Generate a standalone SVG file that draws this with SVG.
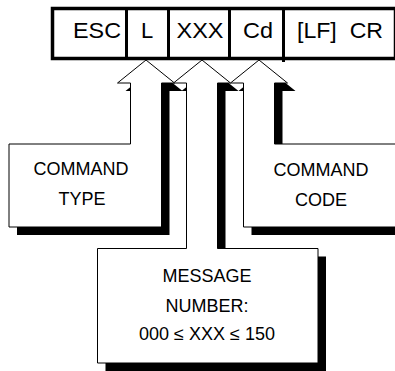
<svg xmlns="http://www.w3.org/2000/svg" width="395" height="371" viewBox="0 0 395 371">
<style>
  .bar { fill: #fff; stroke: #000; stroke-width: 3.5; }
  .div { stroke: #000; stroke-width: 3; }
  .ft { font-family: "Liberation Sans", Arial, sans-serif; font-size: 22px; fill: #000; text-anchor: middle; }
  .lt { font-family: "Liberation Sans", Arial, sans-serif; font-size: 18px; fill: #000; text-anchor: middle; }
  .shadow { fill: #000; stroke: none; }
  .callout { fill: #fff; stroke: #000; stroke-width: 1; stroke-linejoin: miter; }
</style>
<rect width="395" height="371" fill="#fff"/>

<g id="record">
  <rect class="bar" x="52.5" y="8.5" width="343" height="50"/>
  <line class="div" x1="126.5" y1="8.5" x2="126.5" y2="58.5"/>
  <line class="div" x1="168.5" y1="8.5" x2="168.5" y2="58.5"/>
  <line class="div" x1="229.5" y1="8.5" x2="229.5" y2="58.5"/>
  <line class="div" x1="283.5" y1="8.5" x2="283.5" y2="62"/>
  <text class="ft" x="97" y="38" textLength="48" lengthAdjust="spacingAndGlyphs">ESC</text>
  <text class="ft" x="147" y="38">L</text>
  <text class="ft" x="200" y="38" textLength="47" lengthAdjust="spacingAndGlyphs">XXX</text>
  <text class="ft" x="258" y="38" textLength="30" lengthAdjust="spacingAndGlyphs">Cd</text>
  <text class="ft" x="340" y="38" xml:space="preserve" textLength="86" lengthAdjust="spacingAndGlyphs">[LF]  CR</text>
</g>

<g id="command-type">
  <path class="shadow" transform="translate(8,8)" d="M146,60 L174.5,83 L161.5,83 L161.5,227 L9,227 L9,144 L130.5,144 L130.5,83 L117.5,83 Z"/>
  <path class="callout" d="M146,60 L174.5,83 L161.5,83 L161.5,227 L9,227 L9,144 L130.5,144 L130.5,83 L117.5,83 Z"/>
  <text class="lt" x="81" y="175">COMMAND</text>
  <text class="lt" x="82" y="205">TYPE</text>
</g>

<g id="message-number">
  <path class="shadow" transform="translate(8,8)" d="M202,60 L230.5,83 L217.5,83 L217.5,248.5 L318,248.5 L318,363 L97.5,363 L97.5,248.5 L186.5,248.5 L186.5,83 L173.5,83 Z"/>
  <path class="callout" d="M202,60 L230.5,83 L217.5,83 L217.5,248.5 L318,248.5 L318,363 L97.5,363 L97.5,248.5 L186.5,248.5 L186.5,83 L173.5,83 Z"/>
  <text class="lt" x="207" y="282">MESSAGE</text>
  <text class="lt" x="207" y="312">NUMBER:</text>
  <text class="lt" x="207" y="340">000 ≤ XXX ≤ 150</text>
</g>

<g id="command-code">
  <path class="shadow" transform="translate(8,8)" d="M259,60 L287.5,83 L274.5,83 L274.5,144 L400,144 L400,227 L243.5,227 L243.5,83 L230.5,83 Z"/>
  <path class="callout" d="M259,60 L287.5,83 L274.5,83 L274.5,144 L400,144 L400,227 L243.5,227 L243.5,83 L230.5,83 Z"/>
  <text class="lt" x="321" y="176">COMMAND</text>
  <text class="lt" x="321" y="206">CODE</text>
</g>

<g id="connectors"></g>
</svg>
